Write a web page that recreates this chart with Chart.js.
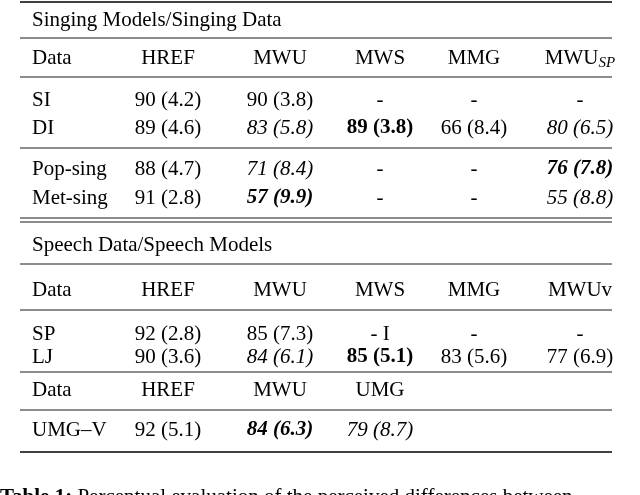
<!DOCTYPE html>
<html><head><meta charset="utf-8">
<script src="https://cdn.jsdelivr.net/npm/chart.js@4"></script>
<style>html,body{margin:0;padding:0;background:#fff}canvas{display:block}</style>
</head><body><canvas id="c" width="640" height="495"></canvas>
<script>
// ---- data ----
const section1Title = "Singing Models/Singing Data";
const header1 = ["Data","HREF","MWU","MWS","MMG","MWU_SP"];
const rows1a = [["SI","90 (4.2)","90 (3.8)","-","-","-"],
                ["DI","89 (4.6)","83 (5.8)","89 (3.8)","66 (8.4)","80 (6.5)"]];
const styles1a = [["","","","","",""],["","","i","b","","i"]];
const rows1b = [["Pop-sing","88 (4.7)","71 (8.4)","-","-","76 (7.8)"],
                ["Met-sing","91 (2.8)","57 (9.9)","-","-","55 (8.8)"]];
const styles1b = [["","","i","","","bi"],["","","bi","","","i"]];
const section2Title = "Speech Data/Speech Models";
const header2 = ["Data","HREF","MWU","MWS","MMG","MWUv"];
const rows2 = [["SP","92 (2.8)","85 (7.3)","- I","-","-"],
               ["LJ","90 (3.6)","84 (6.1)","85 (5.1)","83 (5.6)","77 (6.9)"]];
const styles2 = [["","","","","",""],["","","i","b","",""]];
const header3 = ["Data","HREF","MWU","UMG"];
const rows3 = [["UMG_V","92 (5.1)","84 (6.3)","79 (8.7)"]];
const styles3 = [["","","bi","i"]];
const caption = "Table 1: Perceptual evaluation of the perceived differences between";

// ---- layout (positions, not data) ----
const colX = [32,168,280,380,474,580];
const rowY = {t1:20,h1:58,a:[100,128],b:[169,198],t2:245,h2:290,c:[334,357],h3:390,d:430,cap:503};
const rules = [[2,1.6],[38,0.9],[77,0.9],[148,0.9],[218,0.9],[222,0.9],[264,0.9],[310,0.9],[372,0.9],[410,0.9],[452,1.6]];

const texts = [];
function addRow(cells, sty, y){cells.forEach((t,i)=>texts.push({t,x:colX[i],y,s:sty?sty[i]:"",left:i===0}));}
texts.push({t:section1Title,x:32,y:rowY.t1,s:"",left:true});
addRow(header1,null,rowY.h1);
rows1a.forEach((r,i)=>addRow(r,styles1a[i],rowY.a[i]));
rows1b.forEach((r,i)=>addRow(r,styles1b[i],rowY.b[i]));
texts.push({t:section2Title,x:32,y:rowY.t2,s:"",left:true});
addRow(header2,null,rowY.h2);
rows2.forEach((r,i)=>addRow(r,styles2[i],rowY.c[i]));
addRow(header3,null,rowY.h3);
rows3.forEach((r,i)=>addRow(r,styles3[i],rowY.d));

const datasets = rules.map(([y,w])=>({type:'line',data:[{x:20,y},{x:612,y}],borderColor:'#000',borderWidth:w,pointRadius:0}));

const textPlugin = {id:'txt',afterDatasetsDraw(chart){
  const ctx=chart.ctx, xs=chart.scales.x, ys=chart.scales.y;
  ctx.save(); ctx.fillStyle='#000'; ctx.textBaseline='middle';
  const F='"Liberation Serif","Times New Roman",serif';
  const font=s=>(s.includes('i')?'italic ':'')+(s.includes('b')?'bold ':'')+'21px '+F;
  texts.forEach(o=>{
    const px=xs.getPixelForValue(o.x), py=ys.getPixelForValue(o.y);
    ctx.font=font(o.s);
    let t=o.t, sub=null;
    if(t==='MWU_SP'){t='MWU';sub='SP';}
    if(t==='UMG_V'){t='UMG\u2013V';}
    if(sub){
      ctx.font=font(o.s); const w1=ctx.measureText(t).width;
      ctx.font='italic 15px '+F; const w2=ctx.measureText(sub).width;
      const x0=px-(w1+w2)/2;
      ctx.textAlign='left'; ctx.font=font(o.s); ctx.fillText(t,x0,py);
      ctx.font='italic 15px '+F; ctx.fillText(sub,x0+w1,py+5);
    } else {
      ctx.textAlign=o.left?'left':'center';
      ctx.fillText(t,px,py);
    }
  });
  ctx.textAlign='left'; ctx.textBaseline='alphabetic';
  const cx=xs.getPixelForValue(0), cy=ys.getPixelForValue(rowY.cap);
  ctx.font='bold 21px '+F; ctx.fillText('Table 1:',cx,cy);
  const w=ctx.measureText('Table 1: ').width;
  ctx.font='21px '+F; ctx.fillText(caption.replace('Table 1: ',''),cx+w,cy);
  ctx.restore();
}};

new Chart(document.getElementById('c'),{
  type:'scatter',
  data:{datasets},
  options:{responsive:false,animation:false,layout:{padding:0},
    plugins:{legend:{display:false},tooltip:{enabled:false}},
    scales:{x:{type:'linear',min:0,max:640,display:false},
            y:{type:'linear',min:0,max:495,reverse:true,display:false}}},
  plugins:[textPlugin]
});
</script></body></html>
